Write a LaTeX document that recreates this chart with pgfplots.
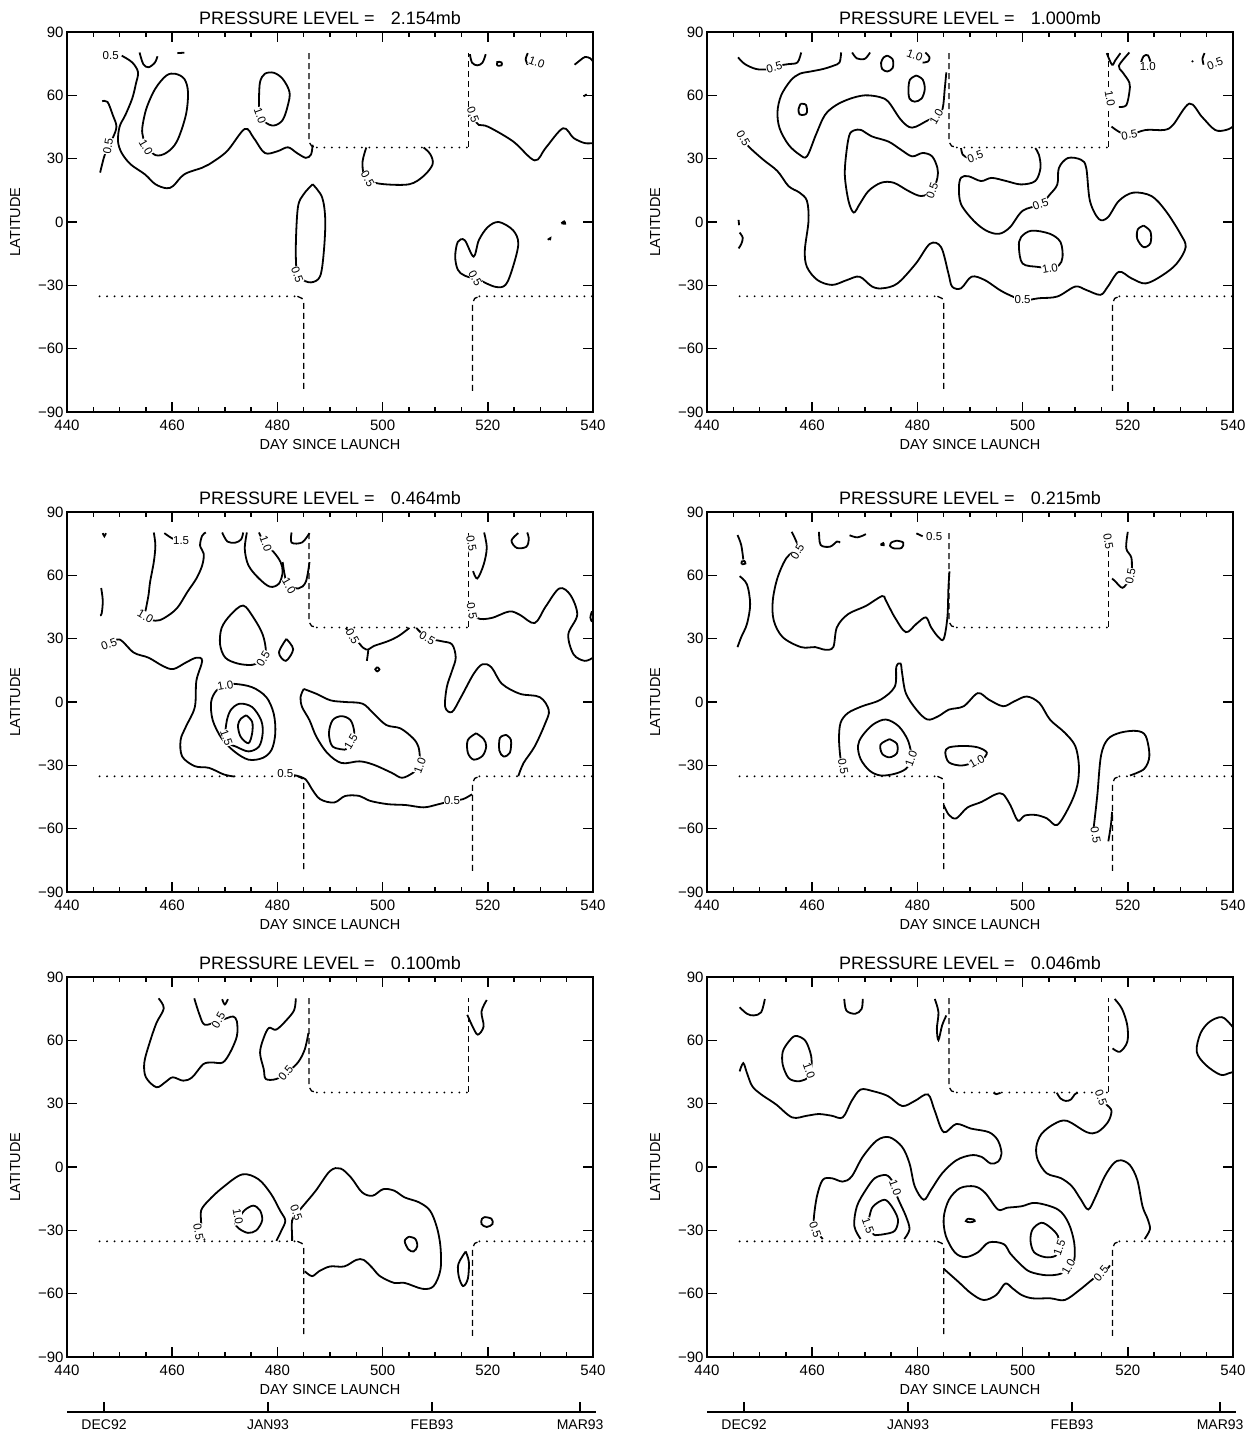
\documentclass[border=0pt]{standalone}
\usepackage{fontspec}
\setmainfont{Liberation Sans}
\usepackage{pgfplots}
\pgfplotsset{compat=1.18}
\tikzset{lbl/.style={font=\fontsize{11.5}{11.5}\selectfont, fill=white, inner sep=0.4pt}}
\pgfplotsset{
 ct/.style={black, line width=1.8pt, smooth, tension=0.55, mark=none},
 vb/.style={black, line width=1.3pt, dash pattern=on 6pt off 4pt, mark=none},
 hb/.style={black, line width=2.1pt, line cap=round, dash pattern=on 0pt off 7.5pt, mark=none},
 panel/.style={
  scale only axis, width=526pt, height=380pt, anchor=south west,
  xmin=440, xmax=540, ymin=-90, ymax=90,
  xtick={440,460,...,540}, minor x tick num=3,
  ytick={-90,-60,-30,0,30,60,90}, yticklabels={−90,−60,−30,0,30,60,90},
  tick align=inside, major tick length=10pt, minor tick length=5pt,
  axis line style={line width=1.8pt},
  every tick/.style={black, line width=1.5pt},
  xlabel={DAY SINCE LAUNCH}, ylabel={LATITUDE},
  tick label style={font=\fontsize{15}{15}\selectfont},
  xticklabel style={yshift=-4pt},
  label style={font=\fontsize{14.5}{14.5}\selectfont},
  title style={font=\fontsize{18}{18}\selectfont, yshift=-2pt},
  /pgf/number format/assume math mode=true,
  xlabel style={yshift=-2pt}, ylabel style={yshift=11pt},
 },
 dateax/.style={
  anchor=south west, scale only axis, width=529pt, height=2pt,
  xmin=440, xmax=540, ymin=0, ymax=1,
  axis x line=bottom, axis y line=none, axis line style={-, line width=1.8pt},
  xtick={447,478,509,537}, xticklabels={DEC92,JAN93,FEB93,MAR93},
  tick align=inside, major tick length=10pt,
  every tick/.style={black, line width=1.5pt},
  xticklabel style={font=\fontsize{14}{14}\selectfont, yshift=-4pt},
 }
}
\newcommand{\bnd}{%
\addplot[vb] coordinates {(486,80)(486,38)(486.5,36)(487.5,35.3)};
\addplot[hb] coordinates {(487.5,35.3)(516.2,35.3)};
\addplot[vb] coordinates {(516.3,35.6)(516.3,80)};
\addplot[hb] coordinates {(446.2,-35.2)(483.8,-35.2)};
\addplot[vb] coordinates {(483.8,-35.2)(484.7,-36.2)(485,-38.5)(485,-80)};
\addplot[vb] coordinates {(517.1,-80)(517.1,-38.5)(517.5,-36.2)(518.4,-35.2)};
\addplot[hb] coordinates {(518.4,-35.2)(540,-35.2)};
}
\begin{document}
\begin{tikzpicture}
\useasboundingbox (0,0) rectangle (1258pt,-1435pt);
% ---------------- Panel 1: 2.154mb
\begin{axis}[panel, at={(67pt,-412pt)}, title={PRESSURE LEVEL =\hspace{0.9em}2.154mb}]
\bnd
\addplot[ct] coordinates {(450.4,78.8)(452.4,75.6)(453.5,71)(453.1,65.5)(452.4,58.5)(451.1,50.7)(450,45.2)(449.7,38.2)(450.4,32.7)(452.1,27.3)(454.8,22.6)(456.8,17.9)(458.9,16)(460.2,17.1)(462.3,22.6)(465.7,25.7)(467,27.3)(470.4,33.5)(473.8,44.1)(475.5,39.8)(477.6,32.7)(480,33.5)(482,35.4)(483.7,32.7)(485.4,30.4)(486.4,32)(486.7,36.6)};
\addplot[ct] coordinates {(446.7,57.2)(447.7,56.9)(448.7,50.7)(449.4,45.2)(448.7,39.8)(447.7,35.1)(447,30.4)(446.3,23.4)};
\addplot[ct] coordinates {(453.8,80.3)(454.5,74.8)(455.5,73.3)(456.7,75.5)(457.2,78.5)};
\addplot[ct] coordinates {(461,80)(462.3,80.2)};
\addplot[ct] coordinates {(454.8,36.6)(456.8,31.7)(458.9,32.8)(460.9,38.2)(462.6,50.7)(463,61.6)(462.3,67.8)(460.6,70.2)(458.9,69.4)(456.8,63.2)(455.1,53.8)(454.3,44.4)(454.5,39.8)(454.8,36.6)};
\addplot[ct] coordinates {(476.5,53.8)(477.6,47.6)(479.3,45.7)(481,48.3)(482,55.4)(482.3,61.6)(481,67.8)(479.3,70.7)(477.6,70.2)(476.7,66.3)(476.5,58.5)(476.5,53.8)};
\addplot[ct] coordinates {(496.9,35.3)(496.2,28.8)(496.4,22.6)(497.3,19.5)(500.3,17.9)(505.1,17.9)(507.8,21.8)(509.5,27.3)(509.1,32)(507.8,35.3)};
\addplot[ct] coordinates {(486.7,17.9)(488.5,11.7)(489.1,0.8)(488.8,-14.8)(488.1,-25.8)(486.4,-28.6)(484.5,-27)(483.7,-24.2)(483.5,-11.7)(483.9,7)(485,13.2)(486.7,17.9)};
\addplot[ct] coordinates {(518.3,-27.3)(521.4,-30.7)(523.4,-29.7)(524.8,-21.1)(525.8,-10.2)(524.8,-3.9)(522.1,0)(520,-2.4)(518.3,-8.6)(517.3,-16.4)(515.6,-8.6)(514.3,-9.4)(513.8,-16.4)(514.3,-22.6)(515.6,-25.4)(518.3,-27.3)};
\addplot[ct] coordinates {(517.3,49.1)(518.3,46)(520,45.2)(524.8,38.2)(528.9,29.2)(531,35.1)(534.3,44.4)(536.3,39.8)(538.4,37.4)(540,37.4)};
\addplot[ct] coordinates {(516.6,79.5)(517,75.5)(518,74.2)(519,75.5)(519.6,79.5)};
\addplot[ct] coordinates {(521.8,74)(522.6,74.2)(522.6,75.6)(521.8,75.8)(521.8,74)};
\addplot[ct] coordinates {(527.6,80)(527.2,77)(527.6,74.5)};
\addplot[ct] coordinates {(536.5,74.5)(537.5,76.5)(538.5,78.2)(539.5,77.5)(540,76)};
\addplot[ct] coordinates {(534,-0.6)(534.5,0.3)(534.7,-0.8)(534,-0.6)};
\addplot[ct] coordinates {(531.4,-8.4)(531.9,-7.6)(531.8,-8.6)};
\addplot[ct] coordinates {(538.2,59.5)(538.8,60.5)};
\node[lbl] at (448.3,78.8) {0.5};
\node[lbl, rotate=80] at (447.8,36) {0.5};
\node[lbl, rotate=-60] at (455,35.5) {1.0};
\node[lbl, rotate=-70] at (476.7,50.5) {1.0};
\node[lbl, rotate=-60] at (497.2,20.5) {0.5};
\node[lbl, rotate=-70] at (483.8,-25) {0.5};
\node[lbl, rotate=-60] at (517.6,-26.5) {0.5};
\node[lbl, rotate=-70] at (517.2,51) {0.5};
\node[lbl, rotate=-20] at (529.3,75.6) {1.0};
\end{axis}
% ---------------- Panel 2: 1.000mb
\begin{axis}[panel, at={(707pt,-412pt)}, title={PRESSURE LEVEL =\hspace{0.9em}1.000mb}]
\bnd
\addplot[ct] coordinates {(445.9,78)(447.2,74.8)(449.3,72.5)(451.3,72.3)(452.8,73.3)(454.4,74.4)(455.5,74.8)(457.2,75.6)(457.9,80.3)};
\addplot[ct] coordinates {(446.5,42)(446.9,39.7)(447.9,35.8)(450.7,29.5)(453.4,24.1)(455.5,17)(457.6,13.9)(459,10)(459.3,0.6)(458.6,-13.4)(459,-21.3)(461,-27.5)(463.8,-29.8)(466.6,-27.5)(469,-25.9)(471.4,-30.6)(473.4,-31.4)(476.2,-29.1)(479.7,-19.7)(482.4,-10.3)(484.5,-11.9)(485.9,-24.4)(486.6,-30.6)(488.3,-31.4)(490.3,-25.9)(492.8,-27.5)(496.2,-33)(500,-36.9)(503.1,-36.1)(506.6,-35.3)(510,-30.6)(512.1,-32.2)(514.8,-34.5)(516.2,-30.6)(518.3,-23.6)(520.7,-26.7)(523.4,-29.1)(526.6,-25.2)(529.3,-19.7)(531,-11.9)(530,-5.6)(527.2,5.3)(524.5,12.3)(521,13.9)(518.3,10)(516.2,2.2)(514.5,1.4)(512.8,10)(512.1,25.6)(511.1,29.5)(508.6,30.3)(506.9,25.6)(506.6,17.8)(505.2,13.1)(503.4,8.4)(500,5.3)(497.6,-2.5)(495.5,-5.6)(493.1,-4.1)(490.7,0.6)(488.3,8.4)(487.9,16.3)(488.3,21)(489.7,21.7)(492.1,19.4)(494.1,20.9)(496.9,19.4)(499.7,17.8)(502.4,19.4)(503.4,25.6)(503.1,31.9)(502.4,35)};
\addplot[ct] coordinates {(488.3,35)(488.6,32)(489.5,30.5)(490.5,30.5)};
\addplot[ct] coordinates {(485.5,70.9)(485.2,63.1)(484.8,53.8)(483.8,49.8)(482.1,48.3)(479,44.7)(476.9,48.3)(474.5,56.9)(472.8,59.2)(470,60)(467.2,58.4)(464.5,55.3)(462.4,50.6)(460.7,41.3)(459,31.1)(457.6,31.9)(455.5,36.6)(453.8,44.4)(453.4,52.2)(454.1,60)(455.9,67)(457.6,70.2)(459.7,71.3)(462.1,72.5)(464.1,74.1)(465.2,75.6)(465.5,80.3)};
\addplot[ct] coordinates {(457.8,56)(458.8,55.5)(459,52)(458.5,50.8)(457.6,51)(457.4,53.5)(457.8,56)};
\addplot[ct] coordinates {(479.8,69.4)(481,67.5)(481.4,63)(480.8,58.5)(479.5,57)(478.5,58.5)(478.3,63)(478.6,67.5)(479.8,69.4)};
\addplot[ct] coordinates {(474.3,78.8)(475.3,77)(475.3,73)(474.3,71.3)(473.3,72.5)(473.1,75.5)(473.6,78)(474.3,78.8)};
\addplot[ct] coordinates {(481.5,80.3)(482.3,78)(482,76)(481,75.5)};
\addplot[ct] coordinates {(467.6,80.3)(468.5,77.5)(470,77.3)(471,80.3)};
\addplot[ct] coordinates {(468.3,43.6)(469.3,43.6)(471.4,40.5)(474.5,38.1)(476.9,34.2)(479,31.1)(481,32.7)(482.8,31.1)(483.8,25.6)(483.8,20.9)(482.8,14.7)(480.7,12.3)(478.3,14.7)(475.5,18.6)(473.1,18.6)(470.7,14.7)(469,8.4)(467.9,4.5)(466.9,10)(466.2,22.5)(466.6,35)(467.2,42)(468.3,43.6)};
\addplot[ct] coordinates {(505.2,-22)(503,-21.3)(500,-19.7)(499.3,-11.9)(499.7,-7.2)(501.7,-4.1)(505.2,-5.6)(507.2,-9.5)(507.6,-16.6)(506.9,-20.5)(505.2,-22)};
\addplot[ct] coordinates {(523,-1.7)(524.3,-4.5)(524.3,-10)(523,-11.9)(521.8,-8)(521.9,-3.5)(523,-1.7)};
\addplot[ct] coordinates {(516.9,45.2)(518.5,42.5)(520.3,41.3)(523.4,43.6)(526.9,43.6)(528.6,46)(531.7,56.1)(534.1,49.8)(536.6,43.6)(538.7,43.6)(540,45.2)};
\addplot[ct] coordinates {(520.3,80.3)(518.3,74)(519,71)(520.3,66)(520.3,61.6)(519.7,55.3)(518.3,54.5)};
\addplot[ct] coordinates {(516,80)(517,74.5)(517.6,76.5)(518.6,80)};
\addplot[ct] coordinates {(522.5,75.5)(523,78.5)(523.8,79)(524.3,76)};
\addplot[ct] coordinates {(534.4,74.5)(534.2,77.5)(534.6,80)};
\addplot[ct] coordinates {(532.2,75.8)(532.4,76.4)};
\addplot[ct] coordinates {(446,1)(446.1,-1.5)};
\addplot[ct] coordinates {(446.2,-5)(446.8,-7.5)(446.5,-10.5)(446,-12.5)};
\node[lbl, rotate=15] at (452.8,73.3) {0.5};
\node[lbl, rotate=-60] at (446.9,39.7) {0.5};
\node[lbl] at (500,-36.9) {0.5};
\node[lbl, rotate=20] at (503.4,8.4) {0.5};
\node[lbl, rotate=20] at (491,31) {0.5};
\node[lbl, rotate=60] at (483.6,50) {1.0};
\node[lbl, rotate=-20] at (479.5,78.8) {1.0};
\node[lbl, rotate=70] at (482.8,15) {0.5};
\node[lbl, rotate=10] at (505.2,-22) {1.0};
\node[lbl, rotate=10] at (520.3,41.3) {0.5};
\node[lbl, rotate=-80] at (516.6,58.4) {1.0};
\node[lbl] at (523.8,73.5) {1.0};
\node[lbl, rotate=20] at (536.6,75) {0.5};
\end{axis}
% ---------------- Panel 3: 0.464mb
\begin{axis}[panel, at={(67pt,-892pt)}, title={PRESSURE LEVEL =\hspace{0.9em}0.464mb}]
\bnd
\addplot[ct] coordinates {(446.8,80)(447.1,78.5)(447.4,80)};
\addplot[ct] coordinates {(456.5,80.3)(456.8,74.1)(456.5,66.3)(455.8,56.9)(455.5,50.7)(455,44)(454.8,40.5)(456.8,38.5)(458.5,39.8)(460.9,44.4)(462.9,52.2)(464.6,58.5)(465.7,64.7)(466,70.2)(465.3,74.1)(465.7,78.8)(466.4,80.3)};
\addplot[ct] coordinates {(458.5,80)(460,77.5)(461.6,76)};
\addplot[ct] coordinates {(469.5,80.3)(470.5,76)(472,75.5)(473.1,77)(473.5,80.3)};
\addplot[ct] coordinates {(474.2,80.3)(473.8,72.5)(474.5,64.7)(476.5,58.5)(478.6,54.6)(480.3,56.1)(481,61.6)(480.6,66.3)(479.3,71)(477.6,74.9)(476.5,80.3)};
\addplot[ct] coordinates {(482.7,80.3)(482.7,75.5)(484.7,75.6)(486.1,80)};
\addplot[ct] coordinates {(481,66.3)(481.4,60)(482,55.5)(484,53.8)(485.4,56.9)(486.1,66.3)};
\addplot[ct] coordinates {(446.5,54)(446.8,48)(446.6,42)(446.3,41)};
\addplot[ct] coordinates {(446.5,26.5)(448,27.3)(450,29.6)(452.7,23.4)(455.5,21)(458.2,17.1)(460.2,15.6)(462.6,18.7)(464.6,21)(465.7,19.5)(464.6,10.1)(464.3,-2.4)(462.6,-11.7)(461.6,-18)(461.9,-25.8)(464.3,-30.4)(467,-31.2)(469.8,-34.3)(471.8,-35.3)};
\addplot[ct] coordinates {(481.3,-34.3)(483.5,-34.8)(485.4,-36.7)(486.4,-40.6)(488.1,-46)(490.8,-47.6)(492.9,-44.5)(495.6,-44.5)(497.6,-46.8)(501,-48.4)(504.4,-48.8)(507.8,-49.9)(510.5,-48.5)(513.2,-46.8)(515.3,-46)(517,-43.7)};
\addplot[ct] coordinates {(477.2,19.5)(475.2,17.6)(472.5,18.2)(470.1,21)(469.1,27.3)(469.4,35.1)(471.1,41.3)(473.5,45.7)(475.5,39.8)(477.2,32)(477.8,24.2)(477.2,19.5)};
\addplot[ct] coordinates {(481.7,29.9)(483,25)(481.6,19.5)(480.3,23.4)(481.7,29.9)};
\addplot[ct] coordinates {(470.1,7.8)(471.8,8.6)(475.2,7)(477.9,2.3)(479.3,-5.5)(479.6,-14.8)(478.9,-22.6)(477.2,-26.5)(474.5,-27.3)(471.8,-23.4)(469.4,-17.2)(467.7,-8.6)(467.4,0)(468.4,5.4)(470.1,7.8)};
\addplot[ct] coordinates {(470.4,-8.6)(471.1,-3.9)(472.8,-0.8)(475.2,-2.4)(476.9,-8.6)(477.2,-14.8)(476.5,-21.1)(474.5,-23.4)(472.1,-21.1)(470.7,-19.5)(470.1,-15)(470.4,-8.6)};
\addplot[ct] coordinates {(474.1,-6.3)(475.2,-9.4)(475.2,-14.8)(474.5,-19.5)(473,-16.4)(472.5,-11)(473.1,-7.8)(474.1,-6.3)};
\addplot[ct] coordinates {(485,6.2)(487.4,3.9)(490.1,0.8)(492.9,0)(496.2,-0.8)(498.3,-5.5)(500.7,-10.9)(503.4,-12.5)(505.8,-17.2)(506.8,-21.1)(507.1,-26.5)(507.1,-30.4)(505.8,-33.5)(503.7,-35.9)(501.7,-33.5)(498.3,-29.7)(495.6,-28.1)(492.2,-28.9)(489.5,-24.2)(487.4,-16.4)(486.1,-8.6)(484.7,-2.4)(484.4,2.3)(485,6.2)};
\addplot[ct] coordinates {(492.9,-22.6)(490.5,-21.1)(489.8,-14.8)(490.5,-8.6)(492.2,-6.7)(493.9,-8.6)(494.6,-14)(494.3,-18.5)(492.9,-22.6)};
\addplot[ct] coordinates {(493,35)(494.5,31)(496.3,25.7)(497.3,24.9)(498.3,26.5)(501,28.8)(503,31.2)(505.1,35.1)};
\addplot[ct] coordinates {(497.3,24.9)(497.1,21)(497,19.5)};
\addplot[ct] coordinates {(499,16.5)(499.4,15.5)(499,14.5)(498.6,15.5)(499,16.5)};
\addplot[ct] coordinates {(506.4,35.1)(508.5,30.4)(511.2,28.8)(513.2,27.3)(513.9,21)(513.2,14.8)(512.2,7)(511.9,-2.4)(513.2,-4.7)(514.9,2.3)(517.3,13.3)(519,17.9)(520.7,16.4)(522.7,8.6)(526.1,3.9)(529.9,2.3)(531.6,-3.9)(530.9,-10.2)(528.9,-21.1)(526.8,-28.9)(525.8,-35.1)};
\addplot[ct] coordinates {(517.8,-14.8)(519.2,-17.5)(519.7,-21)(519,-25.5)(517.3,-27.3)(516.2,-24)(516.2,-18)(517.8,-14.8)};
\addplot[ct] coordinates {(523.5,-15.6)(524.4,-18)(524.2,-24)(523,-25.8)(522.2,-23)(522.3,-17)(523.5,-15.6)};
\addplot[ct] coordinates {(516.8,46)(518,39.8)(520.7,39.8)(524.1,42.9)(526.1,41.3)(528.9,37.4)(531,45.2)(533.6,53.8)(535.7,50.7)(537,41.3)(535.3,32)(536.3,22.6)(538.4,19.5)(540,21)};
\addplot[ct] coordinates {(539.8,43)(539.5,40)(539.8,38)};
\addplot[ct] coordinates {(519.3,80.3)(519.8,73)(519.2,65)(518,58.5)(517.2,62)};
\addplot[ct] coordinates {(525.8,80)(524.5,76.5)(525.5,73)(527.3,73.5)(527.8,77)(527.5,80.3)};
\node[lbl, rotate=-30] at (454.9,40.5) {1.0};
\node[lbl] at (461.7,76.3) {1.5};
\node[lbl, rotate=-70] at (477.8,75) {1.0};
\node[lbl, rotate=-60] at (482.2,55) {1.0};
\node[lbl, rotate=20] at (448,27.3) {0.5};
\node[lbl] at (481.5,-33.8) {0.5};
\node[lbl] at (513.2,-46.8) {0.5};
\node[lbl, rotate=60] at (477.3,20.5) {0.5};
\node[lbl, rotate=10] at (470.1,7.8) {1.0};
\node[lbl, rotate=-70] at (470.3,-17) {1.5};
\node[lbl, rotate=70] at (507.1,-30) {1.0};
\node[lbl, rotate=60] at (494,-18.7) {1.5};
\node[lbl, rotate=-60] at (494.3,31) {0.5};
\node[lbl, rotate=-30] at (508.5,30.4) {0.5};
\node[lbl, rotate=-80] at (517,43.2) {0.5};
\node[lbl, rotate=-80] at (516.9,75) {0.5};
\end{axis}
% ---------------- Panel 4: 0.215mb
\begin{axis}[panel, at={(707pt,-892pt)}, title={PRESSURE LEVEL =\hspace{0.9em}0.215mb}]
\bnd
\addplot[ct] coordinates {(445.8,79.1)(446.5,74.4)(446.9,67.5)};
\addplot[ct] coordinates {(446.6,65.2)(447.3,65.6)(447.1,66.8)(446.6,66.6)(446.6,65.2)};
\addplot[ct] coordinates {(446.2,59.6)(447.6,55.7)(448.2,46.3)(447.6,37)(446.5,30.7)(445.8,26)};
\addplot[ct] coordinates {(456.1,80.6)(456.8,77)(457.2,73)(455.1,68.2)(453.4,58.8)(452.5,47.9)(452.7,38.5)(454.4,30.7)(457.9,26)(460.6,26)(462.4,24.8)(464,26)(464.7,35.4)(466.8,41.6)(470.2,45.5)(473.3,50.2)(474,48.1)(475.7,40.1)(477.8,33.1)(479.8,37)(481.6,40.1)(482.6,35.4)(484,30.7)(485,29.9)(485.7,40.1)(485.9,54.1)(486.1,61.9)};
\addplot[ct] coordinates {(461.3,80.6)(461.6,74.4)(463.4,73.6)(464.7,76)(465.3,75.5)};
\addplot[ct] coordinates {(467.1,79)(468.6,78)(470.2,79.5)};
\addplot[ct] coordinates {(475,75.5)(476,76.4)(477.3,75.5)(477,73)(475.5,72.8)(474.8,74)(475,75.5)};
\addplot[ct] coordinates {(473,74.5)(473.5,75.3)(473.6,74.3)(473,74.5)};
\addplot[ct] coordinates {(479.8,79.9)(481,78.5)};
\addplot[ct] coordinates {(520,80.6)(519.7,72.8)(520.7,68.2)(520.7,60.4)(520.3,58)(519,54.1)(517.6,57.2)(517,58.5)};
\addplot[ct] coordinates {(466.1,-33.2)(465.8,-29.3)(465.4,-27)(465.1,-17.6)(465.4,-9.8)(466.8,-5.2)(469.5,-2)(473,1.1)(475.7,7.3)(476,16.7)(476.8,18.2)(477.1,13.6)(477.8,4.2)(479.8,-3.6)(481.9,-8.3)(484,-6.7)(486,-3.6)(488.8,-2)(491.5,4.2)(493.6,1.1)(496.3,-2)(498.4,0.3)(500.8,2.6)(503.2,-0.5)(505.2,-8.3)(508,-14.5)(510,-20.8)(510.7,-30.1)(510.4,-39.5)(509,-48.8)(506.6,-58.2)(504.6,-55.1)(502.5,-53.5)(500.4,-53.8)(499.1,-56.2)(497.7,-49)(496.3,-43.7)(494.9,-43.7)(492.2,-47.3)(489.5,-50)(487.4,-55.1)(486,-53.5)(485,-48.8)};
\addplot[ct] coordinates {(478.8,-27.8)(477.8,-31.7)(475.7,-34)(473,-34.8)(470.9,-32.5)(469.2,-27)(468.7,-20.8)(469.5,-16.1)(471.6,-10.6)(474,-8.3)(476.4,-11.4)(478.1,-17.6)(478.8,-23.9)(478.8,-27.8)};
\addplot[ct] coordinates {(474.7,-17.6)(476.1,-19.8)(476.1,-24.2)(474.7,-26.2)(473.3,-24.5)(473,-20.1)(474.7,-17.6)};
\addplot[ct] coordinates {(490.8,-28.6)(488.4,-30.1)(486,-28.6)(485.3,-23.9)(486,-21.5)(488.8,-20.8)(491.5,-21.5)(493.2,-23.9)(492.5,-27)};
\addplot[ct] coordinates {(513.5,-59.8)(514.2,-44.2)(514.9,-25.5)(516.2,-17.6)(518.6,-14.5)(521.7,-13.7)(523.4,-16.1)(524.1,-25.5)(523.1,-31.7)(520.4,-34.8)};
\addplot[ct] coordinates {(516.3,-66)(516.8,-58)(517,-52)};
\node[lbl, rotate=60] at (457.2,71.3) {0.5};
\node[lbl] at (483.2,78.3) {0.5};
\node[lbl, rotate=80] at (520.5,59.5) {0.5};
\node[lbl, rotate=-80] at (516.3,76) {0.5};
\node[lbl, rotate=-80] at (465.9,-30.5) {0.5};
\node[lbl, rotate=70] at (478.8,-27) {1.0};
\node[lbl, rotate=30] at (491.3,-28.2) {1.0};
\node[lbl, rotate=-80] at (513.9,-63) {0.5};
\end{axis}
% ---------------- Panel 5: 0.100mb
\begin{axis}[panel, at={(67pt,-1357pt)}, title={PRESSURE LEVEL =\hspace{0.9em}0.100mb}]
\bnd
\addplot[ct] coordinates {(457.4,79.9)(458.4,75.2)(457,68.2)(455.7,58.8)(454.7,49.5)(455,42.5)(457,37.8)(458.7,40.2)(460.1,42.5)(462.1,40.9)(463.8,42.5)(465.9,48.7)(467.6,49.5)(469.6,49.5)(471,54.2)(472.3,62)(472.3,69)(471.6,71.3)(470.4,70.5)(468.6,69)(466.2,67.4)(465.2,72.1)(464.2,79.9)};
\addplot[ct] coordinates {(469.5,79.5)(470,77)(470.6,79.5)};
\addplot[ct] coordinates {(483.5,79.9)(483.2,74.4)(481.8,69.8)(479.8,65.1)(478.4,65.9)(477.4,61.2)(476.7,54.2)(477.4,46.4)(477.8,41.7)(479.8,41.7)(481.8,44.8)(483.9,49.5)(485.2,55.7)(485.9,63.5)};
\addplot[ct] coordinates {(516.1,72.1)(517.1,66.6)(518.1,62.7)(519.2,66.6)(518.8,73.6)(519.8,79.1)};
\addplot[ct] coordinates {(466.2,-34.6)(465.2,-31)(465.5,-26.8)(465.5,-20.6)(466.9,-15.9)(469.6,-9.7)(473.3,-3.5)(476.4,-5.8)(478.8,-12.8)(480.5,-20.6)(481.5,-25.3)(480.8,-29.9)(479.8,-35)};
\addplot[ct] coordinates {(472.7,-24.5)(473.7,-20.6)(475.4,-18.3)(476.7,-20.6)(477.1,-25.3)(476,-30)(474.4,-31.2)(472.7,-29.2)(472,-26.8)(472.7,-24.5)};
\addplot[ct] coordinates {(482.8,-35)(482.8,-33)(482.8,-25.3)(483.9,-21.4)(485.2,-17.5)(487.3,-11.2)(490,-1.9)(492,-0.7)(494,-5)(496.1,-12)(498.1,-13.6)(500.1,-10.5)(502.2,-11.2)(504.2,-14.4)(506.9,-16.7)(509,-20.6)(510.3,-28.4)(511,-37.7)(511,-48.6)(509.7,-56.4)(507.6,-57.7)(504.2,-54.9)(502.2,-54.9)(499.5,-51.7)(498.1,-47.9)(496.4,-44)(495,-44)(492.7,-47.1)(490,-47.1)(487.9,-49.4)(486.6,-51.7)(485.2,-49.4)};
\addplot[ct] coordinates {(505,-33)(506.2,-34)(506.6,-37.5)(505.9,-40)(504.9,-39)(504.2,-35)(505,-33)};
\addplot[ct] coordinates {(515.8,-40)(516.4,-45)(516.2,-53)(515.3,-56.4)(514.5,-52)(514.4,-46)(515.8,-40)};
\addplot[ct] coordinates {(519.5,-23.7)(520.7,-24.5)(520.9,-27)(519.8,-28.4)(518.8,-27)(518.9,-24.5)(519.5,-23.7)};
\node[lbl, rotate=60] at (468.8,69.5) {0.5};
\node[lbl, rotate=50] at (481.6,44.5) {0.5};
\node[lbl, rotate=-80] at (465,-30.7) {0.5};
\node[lbl, rotate=-80] at (472.5,-23.5) {1.0};
\node[lbl, rotate=-70] at (483.6,-21.5) {0.5};
\end{axis}
% ---------------- Panel 6: 0.046mb
\begin{axis}[panel, at={(707pt,-1357pt)}, title={PRESSURE LEVEL =\hspace{0.9em}0.046mb}]
\bnd
\addplot[ct] coordinates {(446.2,75.7)(447.6,72.6)(448.9,71.8)(450.3,73.3)(451,79.6)};
\addplot[ct] coordinates {(466.1,79.6)(466.5,74.1)(468.2,72.6)(469.4,74.9)(469.6,79.6)};
\addplot[ct] coordinates {(483.3,79.6)(484,73.3)(483.7,65.5)(484,60.1)(484.7,67.1)(485.5,71.8)};
\addplot[ct] coordinates {(458.6,41.4)(457.2,40.6)(455.5,42.2)(454.4,48.4)(454.4,54.6)(455.5,59.3)(456.8,62.1)(458.6,60.1)(459.6,54.6)(459.9,50)(459.6,43.7)(458.6,41.4)};
\addplot[ct] coordinates {(446.2,45.3)(446.9,49.2)(447.6,44.5)(448.6,38.3)(450.3,34.4)(453.1,29.7)(456.2,23.5)(459,24.3)(461.3,25.1)(463.7,24.3)(465.8,23.5)(467.5,31.3)(469.2,36.7)(471.6,35.9)(474.4,33.6)(477.1,28.9)(479.5,31.3)(482,34.4)(483.3,26.6)(485,16.5)(487.4,20.4)(490.2,18.2)(493.6,16.5)(495.3,12.6)(496,6.4)(495.3,2.5)(493.9,1.7)(492.2,4.8)(490.2,5.6)(487.4,3.2)(484.7,-3)(482.6,-10.8)(481.2,-15.5)(479.5,-9.2)(478.5,1.7)(477.1,9.5)(474.7,14.1)(472.3,12.6)(469.6,4.8)(467.5,-4.5)(465.8,-6.9)(463.7,-5.3)(462,-6.1)(460.9,-13.9)(460.3,-24.8)(460.6,-29.5)(462,-34.1)};
\addplot[ct] coordinates {(469.2,-34.1)(468,-27.9)(468.5,-18.6)(470.2,-10.8)(471.9,-5.3)(474,-3.8)(475.2,-6.5)(475.7,-10.8)(476.4,-15.5)(477.8,-23.2)(478.5,-29.5)(477.5,-34.1)};
\addplot[ct] coordinates {(471.9,-32.3)(470.6,-28.7)(470.9,-23.2)(471.6,-18.6)(473.7,-15.5)(475.1,-18.6)(476.3,-24.8)(475.7,-30.2)(473.7,-31.8)(471.9,-32.3)};
\addplot[ct] coordinates {(489.6,-24.5)(490.6,-24.8)(490.9,-25.6)(490,-26.2)(489.2,-25.6)(489.6,-24.5)};
\addplot[ct] coordinates {(508.7,-47.4)(509.8,-44.3)(509.8,-35.7)(508.7,-26.4)(506.7,-20.1)(502.5,-17)(499.8,-18.6)(497,-19.3)(495.3,-20.1)(492.9,-12.3)(490.9,-9.2)(488.1,-10)(486,-15.5)(485,-24)(485.4,-32.6)(487.1,-40.4)(489.1,-42.7)(491.5,-40.4)(493.6,-35.7)(496.4,-36.5)(497.7,-41.1)(499.8,-46.6)(501.5,-49.7)(504.6,-51.3)(507.3,-50.5)(508.7,-47.4)};
\addplot[ct] coordinates {(507,-38)(506.7,-32.6)(505.3,-28.7)(503.6,-26.4)(501.9,-29.5)(501.5,-34.9)(502.2,-40.4)(504.3,-42.7)(506.3,-42)(507,-38)};
\addplot[ct] coordinates {(516.6,-46.6)(515.9,-48.9)(514.9,-50.5)(513.5,-52.8)(510.8,-58.3)(508,-63)(505.3,-62.2)(501.9,-62.2)(499.8,-60.6)(498.1,-57.5)(496.7,-55.2)(495,-60.6)(492.6,-63)(490.2,-59.8)(487.8,-54.4)(485,-48.2)};
\addplot[ct] coordinates {(514,35.2)(514.9,33)(515.9,29.7)(516.9,26.6)(516.2,21.2)(514.2,16.5)(512.2,16.5)(508.4,21.9)(506,20.4)(503.6,15.7)(502.6,9.5)(502.9,3.2)(504.6,-3)(507.3,-5.3)(509.4,-9.2)(511.1,-15.5)(512.5,-20.1)(513.9,-13.9)(515.6,-4.5)(517.3,1.7)(518.7,3.2)(520.4,0.9)(521.8,-6.1)(522.8,-18.6)(523.8,-24.8)(524.2,-29.5)(523.2,-34.1)};
\addplot[ct] coordinates {(506.5,35.2)(507.2,32.5)(508.2,31.3)(509.2,32)(509.9,34.4)(510.5,35.2)};
\addplot[ct] coordinates {(494.5,35.2)(495,34.5)(495.8,35.2)};
\addplot[ct] coordinates {(517.5,79.6)(518.9,74.9)(519.9,67.1)(519.9,59.3)(518.5,54.6)(517.1,56.2)};
\addplot[ct] coordinates {(540,66)(539.7,67.1)(537.9,71)(535.5,68.7)(533.8,63.2)(533.1,54.6)(534.8,48.4)(537.6,43.7)(539.3,44.5)(540,45)};
\node[lbl, rotate=-70] at (459.4,45.5) {1.0};
\node[lbl, rotate=-70] at (460.6,-29.5) {0.5};
\node[lbl, rotate=-70] at (475.8,-10) {1.0};
\node[lbl, rotate=-70] at (470.6,-28) {1.5};
\node[lbl, rotate=60] at (508.7,-47.4) {1.0};
\node[lbl, rotate=70] at (507,-38) {1.5};
\node[lbl, rotate=50] at (514.9,-50.5) {0.5};
\node[lbl, rotate=-70] at (514.9,33) {0.5};
\end{axis}
% ---------------- date axes
\begin{axis}[dateax, at={(67pt,-1412pt)}]
\addplot[draw=none] coordinates {(440,0)(540,1)};
\end{axis}
\begin{axis}[dateax, at={(707pt,-1412pt)}]
\addplot[draw=none] coordinates {(440,0)(540,1)};
\end{axis}
\end{tikzpicture}
\end{document}
